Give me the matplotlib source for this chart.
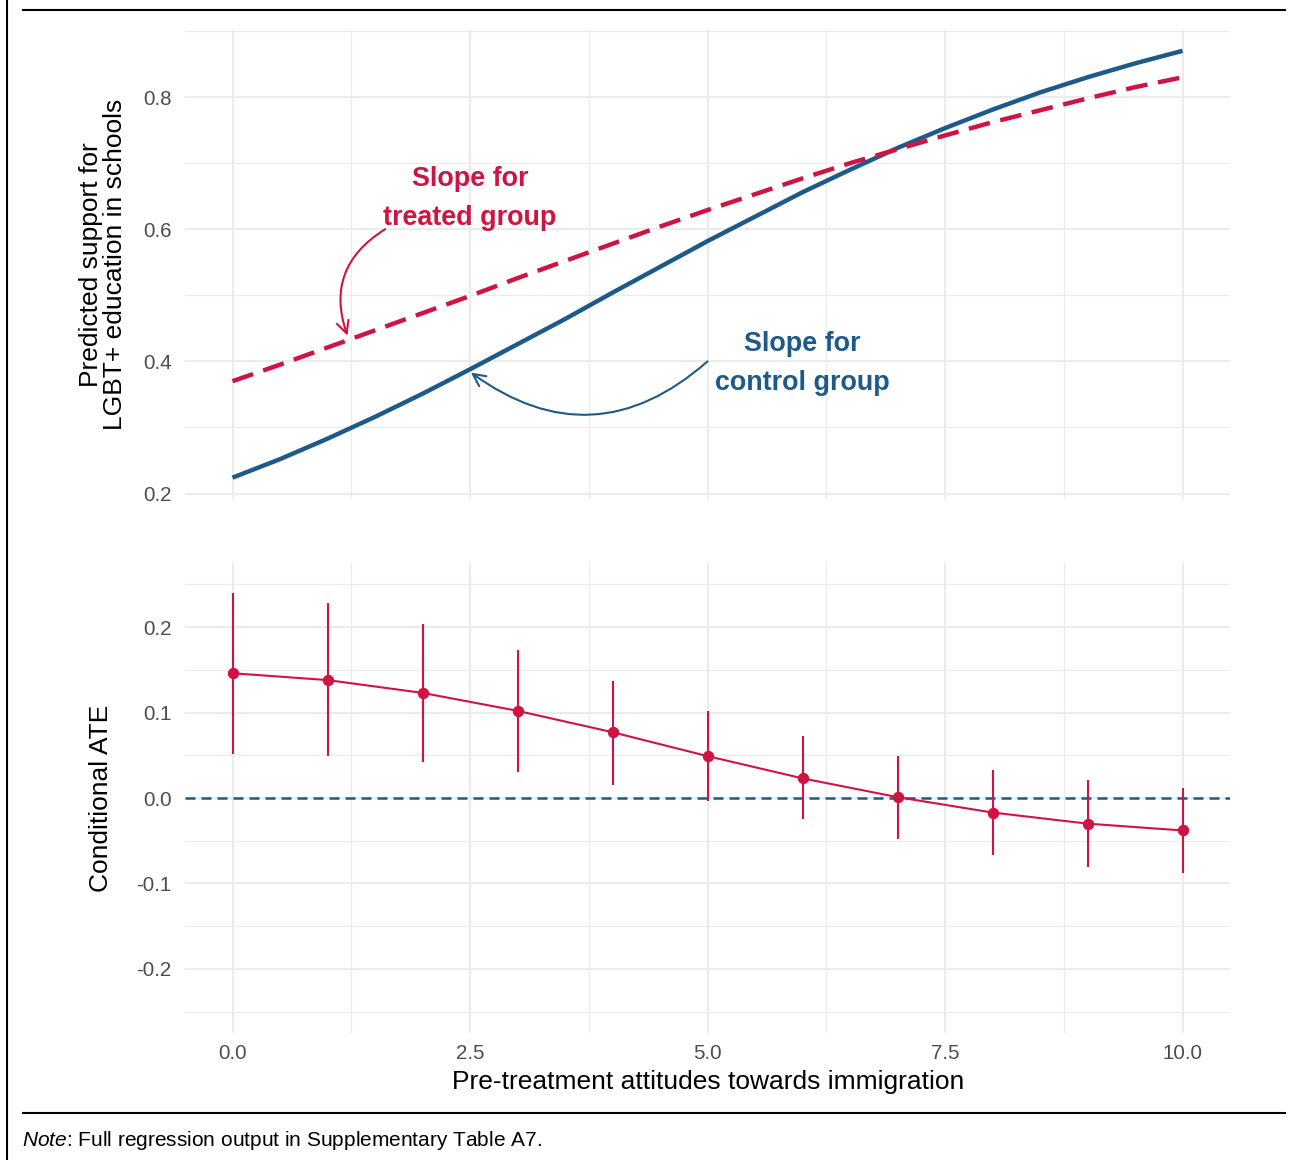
import numpy as np
import matplotlib
matplotlib.use("Agg")
import matplotlib.pyplot as plt
from matplotlib.lines import Line2D

plt.rcParams["font.family"] = ["Liberation Sans", "DejaVu Sans"]
plt.rcParams["mathtext.fontset"] = "custom"
plt.rcParams["mathtext.it"] = "Liberation Sans:italic"
plt.rcParams["mathtext.rm"] = "Liberation Sans"

RED = "#CF1342"
BLUE = "#1D5A8A"
GRID = "#EBEBEB"
TICK = "#4D4D4D"

# ---- data ----
# predicted curves, read every half unit
attitude_fine = [0.0, 0.5, 1.0, 1.5, 2.0, 2.5, 3.0, 3.5, 4.0, 4.5, 5.0,
                 5.5, 6.0, 6.5, 7.0, 7.5, 8.0, 8.5, 9.0, 9.5, 10.0]
pred_control = [0.224, 0.252, 0.283, 0.316, 0.351, 0.388, 0.426, 0.464, 0.504, 0.543, 0.582,
                0.619, 0.656, 0.690, 0.723, 0.753, 0.781, 0.807, 0.830, 0.851, 0.870]
pred_treated = [0.370, 0.395, 0.421, 0.447, 0.473, 0.499, 0.526, 0.552, 0.578, 0.604, 0.629,
                0.653, 0.677, 0.700, 0.721, 0.742, 0.762, 0.780, 0.798, 0.815, 0.830]

attitude = [0, 1, 2, 3, 4, 5, 6, 7, 8, 9, 10]
ate = [0.146, 0.138, 0.123, 0.102, 0.077, 0.049, 0.023, 0.001, -0.017, -0.030, -0.038]
ate_hi = [0.240, 0.228, 0.204, 0.173, 0.137, 0.102, 0.073, 0.049, 0.033, 0.021, 0.012]
ate_lo = [0.052, 0.049, 0.042, 0.030, 0.015, -0.004, -0.025, -0.048, -0.067, -0.081, -0.088]

x_ticks = [0.0, 2.5, 5.0, 7.5, 10.0]
x_minor = [1.25, 3.75, 6.25, 8.75]

W, H = 1298, 1160
fig = plt.figure(figsize=(W / 100, H / 100), dpi=100)

def px_box(left, top, right, bottom):
    return [left / W, 1 - bottom / H, (right - left) / W, (bottom - top) / H]

ax1 = fig.add_axes(px_box(185, 29.5, 1230, 499))
ax2 = fig.add_axes(px_box(185, 563, 1230, 1033))

def style(ax, yticks, yminor):
    for s in ax.spines.values():
        s.set_visible(False)
    ax.set_xlim(-0.5, 10.5)
    ax.set_xticks(x_ticks)
    ax.set_xticks(x_minor, minor=True)
    ax.set_yticks(yticks)
    ax.set_yticks(yminor, minor=True)
    ax.grid(which="major", color=GRID, lw=1.5)
    ax.grid(which="minor", color=GRID, lw=0.8)
    ax.set_axisbelow(True)
    ax.tick_params(which="both", length=0, labelsize=14.8, labelcolor=TICK)
    ax.tick_params(axis="y", pad=9.5)
    ax.tick_params(axis="x", pad=8)

# ---- top panel: predicted support ----
style(ax1, [0.2, 0.4, 0.6, 0.8], [0.3, 0.5, 0.7, 0.9])
ax1.set_ylim(0.1917, 0.9023)
ax1.set_yticklabels(["0.2", "0.4", "0.6", "0.8"])
ax1.tick_params(axis="x", labelbottom=False)

ax1.plot(attitude_fine, pred_control, color=BLUE, lw=3.2, solid_capstyle="butt")
l_t, = ax1.plot(attitude_fine, pred_treated, color=RED, lw=3.2, dash_capstyle="butt")
l_t.set_dashes((4.9, 2.4))

ax1.text(2.5, 0.646, "Slope for\ntreated group", color=RED, fontsize=19.4,
         fontweight="bold", ha="center", va="center", linespacing=1.66)
ax1.text(6.0, 0.397, "Slope for\ncontrol group", color=BLUE, fontsize=19.4,
         fontweight="bold", ha="center", va="center", linespacing=1.66)

ax1.annotate("", xy=(1.21, 0.439), xytext=(1.607, 0.600),
             arrowprops=dict(arrowstyle="->", color=RED, lw=1.5,
                             connectionstyle="arc3,rad=0.4",
                             shrinkA=0, shrinkB=0, mutation_scale=22))
ax1.annotate("", xy=(2.51, 0.383), xytext=(5.0, 0.40),
             arrowprops=dict(arrowstyle="->", color=BLUE, lw=1.5,
                             connectionstyle="arc3,rad=-0.4",
                             shrinkA=0, shrinkB=0, mutation_scale=22))

ax1.set_ylabel("Predicted support for\nLGBT+ education in schools", fontsize=19,
               ha="center", va="center", linespacing=1.0)
ax1.yaxis.set_label_coords(-0.0785, 0.5)

# ---- bottom panel: conditional ATE ----
style(ax2, [-0.2, -0.1, 0.0, 0.1, 0.2], [-0.25, -0.15, -0.05, 0.05, 0.15, 0.25])
ax2.set_ylim(-0.275, 0.275)
ax2.set_yticklabels(["-0.2", "-0.1", "0.0", "0.1", "0.2"])
ax2.set_xticklabels(["0.0", "2.5", "5.0", "7.5", "10.0"])

zl = ax2.axhline(0, color=BLUE, lw=1.8, zorder=2)
zl.set_dashes((4.0, 2.4))

a = np.array(ate)
ax2.errorbar(attitude, ate, yerr=[a - np.array(ate_lo), np.array(ate_hi) - a],
             fmt="o-", color=RED, ecolor=RED, lw=1.5, elinewidth=1.5,
             markersize=7.2, capsize=0, zorder=3)

ax2.set_ylabel("Conditional ATE", fontsize=19, ha="center", va="center")
ax2.yaxis.set_label_coords(-0.0804, 0.5)
ax2.set_xlabel("Pre-treatment attitudes towards immigration", fontsize=19,
               ha="center", va="center")
ax2.xaxis.set_label_coords(0.5005, -0.105)

# ---- frame lines and note ----
fig.add_artist(Line2D([7 / W, 7 / W], [0, 1], color="black", lw=1.5,
                      transform=fig.transFigure))
fig.add_artist(Line2D([23 / W, 1285 / W], [1 - 10 / H, 1 - 10 / H], color="black",
                      lw=1.5, transform=fig.transFigure))
fig.add_artist(Line2D([23 / W, 1285 / W], [1 - 1113 / H, 1 - 1113 / H], color="black",
                      lw=1.5, transform=fig.transFigure))
fig.text(22 / W, 1 - 1140 / H, r"$\it{Note}$: Full regression output in Supplementary Table A7.",
         fontsize=15, ha="left", va="center")

fig.savefig("out.png", dpi=100)
